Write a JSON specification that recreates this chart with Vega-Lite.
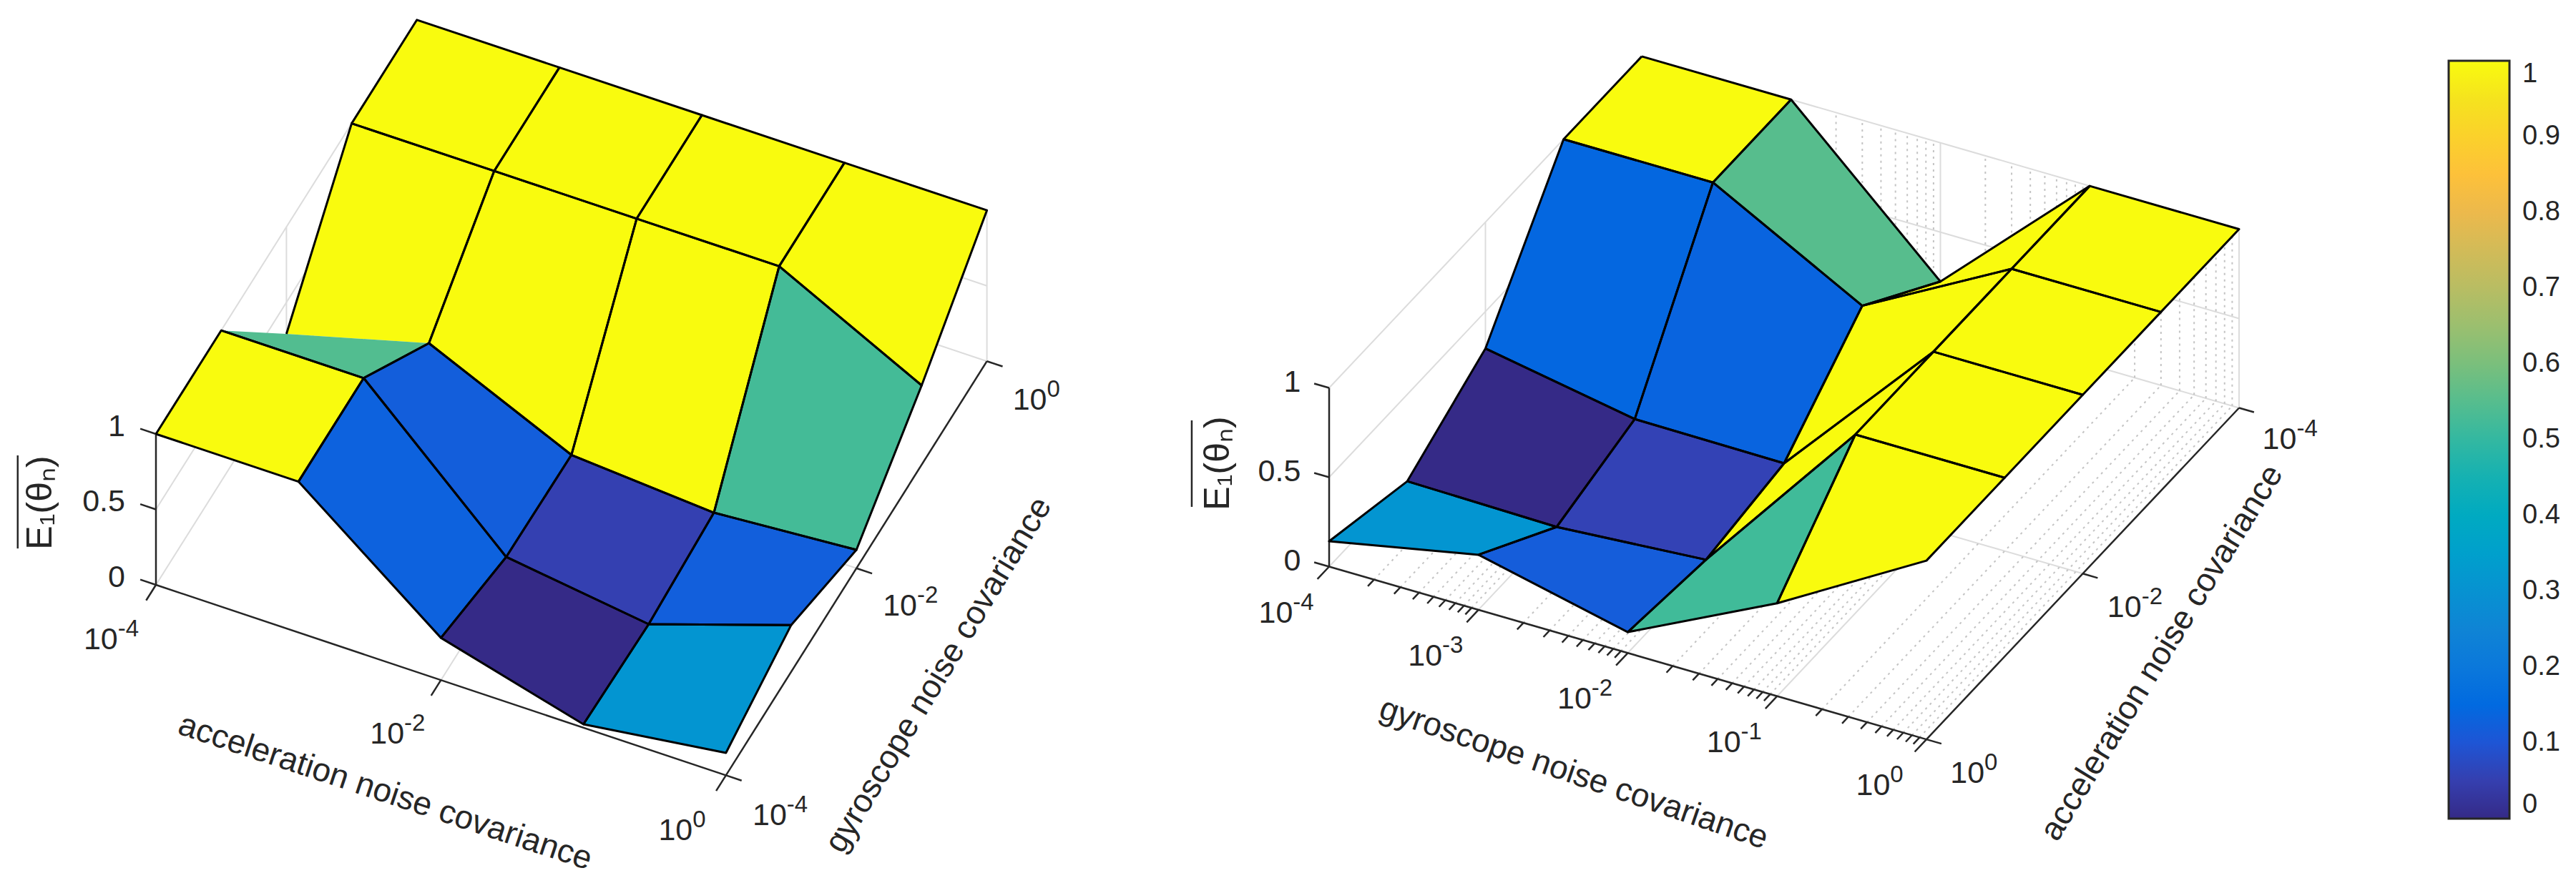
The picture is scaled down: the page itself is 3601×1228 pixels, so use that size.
{"$schema":"https://vega.github.io/schema/vega-lite/v6.json","width":3601,"height":1228,"padding":0,"autosize":{"type":"none"},"background":"white","view":{"stroke":null},
"config":{"text":{"font":"Liberation Sans","fill":"#262626"}},
"datasets":{
"cells":[
{"p":"L","a":-4,"g":-1,"z1_ll":1,"z2_hl":1,"z3_hh":1,"z4_lh":1,"E":1},
{"p":"L","a":-3,"g":-1,"z1_ll":1,"z2_hl":1,"z3_hh":1,"z4_lh":1,"E":1},
{"p":"L","a":-2,"g":-1,"z1_ll":1,"z2_hl":1,"z3_hh":1,"z4_lh":1,"E":1},
{"p":"L","a":-1,"g":-1,"z1_ll":1,"z2_hl":0.526,"z3_hh":1,"z4_lh":1,"E":1},
{"p":"L","a":-4,"g":-2,"z1_ll":0.291,"z2_hl":0.545,"z3_hh":1,"z4_lh":1,"E":1},
{"p":"L","a":-3,"g":-2,"z1_ll":0.545,"z2_hl":0.12,"z3_hh":1,"z4_lh":1,"E":1},
{"p":"L","a":-2,"g":-2,"z1_ll":0.12,"z2_hl":0.053,"z3_hh":1,"z4_lh":1,"E":1},
{"p":"L","a":-1,"g":-2,"z1_ll":0.053,"z2_hl":0.122,"z3_hh":0.526,"z4_lh":1,"E":0.526},
{"p":"L","a":-4,"g":-3,"z1_ll":1,"z2_hl":1,"z3_hh":0.545,"z4_lh":0.291,"E":0.545},
{"p":"L","a":-3,"g":-3,"z1_ll":1,"z2_hl":0.13,"z3_hh":0.12,"z4_lh":0.545,"E":0.12},
{"p":"L","a":-2,"g":-3,"z1_ll":0.13,"z2_hl":0,"z3_hh":0.053,"z4_lh":0.12,"E":0.053},
{"p":"L","a":-1,"g":-3,"z1_ll":0,"z2_hl":0.31,"z3_hh":0.122,"z4_lh":0.053,"E":0.122},
{"p":"L","a":-4,"g":-4,"z1_ll":1,"z2_hl":1,"z3_hh":1,"z4_lh":1,"E":1},
{"p":"L","a":-3,"g":-4,"z1_ll":1,"z2_hl":0.28,"z3_hh":0.13,"z4_lh":1,"E":0.13},
{"p":"L","a":-2,"g":-4,"z1_ll":0.28,"z2_hl":0.023,"z3_hh":0,"z4_lh":0.13,"E":0},
{"p":"L","a":-1,"g":-4,"z1_ll":0.023,"z2_hl":0.149,"z3_hh":0.31,"z4_lh":0,"E":0.31},
{"p":"R","a":-4,"g":-4,"z1_ll":1,"z2_hl":1,"z3_hh":1,"z4_lh":1,"E":1},
{"p":"R","a":-4,"g":-3,"z1_ll":1,"z2_hl":1,"z3_hh":0.552,"z4_lh":0.224,"E":0.552},
{"p":"R","a":-4,"g":-2,"z1_ll":0.224,"z2_hl":0.552,"z3_hh":1,"z4_lh":1,"E":1},
{"p":"R","a":-4,"g":-1,"z1_ll":1,"z2_hl":1,"z3_hh":1,"z4_lh":1,"E":1},
{"p":"R","a":-3,"g":-4,"z1_ll":1,"z2_hl":0.293,"z3_hh":0.14,"z4_lh":1,"E":0.14},
{"p":"R","a":-3,"g":-3,"z1_ll":1,"z2_hl":0.14,"z3_hh":0.134,"z4_lh":0.552,"E":0.134},
{"p":"R","a":-3,"g":-2,"z1_ll":0.552,"z2_hl":0.134,"z3_hh":1,"z4_lh":1,"E":1},
{"p":"R","a":-3,"g":-1,"z1_ll":1,"z2_hl":1,"z3_hh":1,"z4_lh":1,"E":1},
{"p":"R","a":-2,"g":-4,"z1_ll":0.293,"z2_hl":0.014,"z3_hh":0,"z4_lh":0.14,"E":0},
{"p":"R","a":-2,"g":-3,"z1_ll":0.14,"z2_hl":0,"z3_hh":0.058,"z4_lh":0.134,"E":0.058},
{"p":"R","a":-2,"g":-2,"z1_ll":0.134,"z2_hl":0.058,"z3_hh":1,"z4_lh":1,"E":1},
{"p":"R","a":-2,"g":-1,"z1_ll":1,"z2_hl":1,"z3_hh":1,"z4_lh":1,"E":1},
{"p":"R","a":-1,"g":-4,"z1_ll":0.014,"z2_hl":0.142,"z3_hh":0.308,"z4_lh":0,"E":0.308},
{"p":"R","a":-1,"g":-3,"z1_ll":0,"z2_hl":0.308,"z3_hh":0.117,"z4_lh":0.058,"E":0.117},
{"p":"R","a":-1,"g":-2,"z1_ll":0.058,"z2_hl":0.117,"z3_hh":0.52,"z4_lh":1,"E":0.52},
{"p":"R","a":-1,"g":-1,"z1_ll":1,"z2_hl":0.52,"z3_hh":1,"z4_lh":1,"E":1}
],
"segments":[
{"k":"grid","p":"L","a1":-4,"g1":-4,"z1":0,"a2":-4,"g2":0,"z2":0},
{"k":"grid","p":"L","a1":-4,"g1":-4,"z1":0.5,"a2":-4,"g2":0,"z2":0.5},
{"k":"grid","p":"L","a1":-4,"g1":-4,"z1":1,"a2":-4,"g2":0,"z2":1},
{"k":"grid","p":"L","a1":-4,"g1":-2,"z1":0,"a2":-4,"g2":-2,"z2":1},
{"k":"grid","p":"L","a1":-4,"g1":0,"z1":0,"a2":-4,"g2":0,"z2":1},
{"k":"grid","p":"L","a1":-4,"g1":0,"z1":0,"a2":0,"g2":0,"z2":0},
{"k":"grid","p":"L","a1":-4,"g1":0,"z1":0.5,"a2":0,"g2":0,"z2":0.5},
{"k":"grid","p":"L","a1":-4,"g1":0,"z1":1,"a2":0,"g2":0,"z2":1},
{"k":"grid","p":"L","a1":-2,"g1":0,"z1":0,"a2":-2,"g2":0,"z2":1},
{"k":"grid","p":"L","a1":0,"g1":0,"z1":0,"a2":0,"g2":0,"z2":1},
{"k":"grid","p":"L","a1":-2,"g1":-4,"z1":0,"a2":-2,"g2":0,"z2":0},
{"k":"grid","p":"L","a1":-4,"g1":-2,"z1":0,"a2":0,"g2":-2,"z2":0},
{"k":"grid","p":"R","a1":0,"g1":-4,"z1":0,"a2":-4,"g2":-4,"z2":0},
{"k":"grid","p":"R","a1":0,"g1":-4,"z1":0.5,"a2":-4,"g2":-4,"z2":0.5},
{"k":"grid","p":"R","a1":0,"g1":-4,"z1":1,"a2":-4,"g2":-4,"z2":1},
{"k":"grid","p":"R","a1":-2,"g1":-4,"z1":0,"a2":-2,"g2":-4,"z2":1},
{"k":"grid","p":"R","a1":-4,"g1":-4,"z1":0,"a2":-4,"g2":-4,"z2":1},
{"k":"grid","p":"R","a1":-4,"g1":-4,"z1":0,"a2":-4,"g2":0,"z2":0},
{"k":"grid","p":"R","a1":-4,"g1":-4,"z1":0.5,"a2":-4,"g2":0,"z2":0.5},
{"k":"grid","p":"R","a1":-4,"g1":-4,"z1":1,"a2":-4,"g2":0,"z2":1},
{"k":"grid","p":"R","a1":-4,"g1":-3,"z1":0,"a2":-4,"g2":-3,"z2":1},
{"k":"grid","p":"R","a1":-4,"g1":-2,"z1":0,"a2":-4,"g2":-2,"z2":1},
{"k":"grid","p":"R","a1":-4,"g1":-1,"z1":0,"a2":-4,"g2":-1,"z2":1},
{"k":"grid","p":"R","a1":-4,"g1":0,"z1":0,"a2":-4,"g2":0,"z2":1},
{"k":"grid","p":"R","a1":0,"g1":-3,"z1":0,"a2":-4,"g2":-3,"z2":0},
{"k":"grid","p":"R","a1":0,"g1":-2,"z1":0,"a2":-4,"g2":-2,"z2":0},
{"k":"grid","p":"R","a1":0,"g1":-1,"z1":0,"a2":-4,"g2":-1,"z2":0},
{"k":"grid","p":"R","a1":-2,"g1":-4,"z1":0,"a2":-2,"g2":0,"z2":0},
{"k":"axis","p":"L","a1":-4,"g1":-4,"z1":0,"a2":0,"g2":-4,"z2":0},
{"k":"axis","p":"L","a1":0,"g1":-4,"z1":0,"a2":0,"g2":0,"z2":0},
{"k":"axis","p":"L","a1":-4,"g1":-4,"z1":0,"a2":-4,"g2":-4,"z2":1},
{"k":"axis","p":"L","a1":-4,"g1":-4,"z1":0,"a2":-4,"g2":-4.15,"z2":0},
{"k":"axis","p":"L","a1":-2,"g1":-4,"z1":0,"a2":-2,"g2":-4.15,"z2":0},
{"k":"axis","p":"L","a1":0,"g1":-4,"z1":0,"a2":0,"g2":-4.15,"z2":0},
{"k":"axis","p":"L","a1":0,"g1":-4,"z1":0,"a2":0.11,"g2":-4,"z2":0},
{"k":"axis","p":"L","a1":0,"g1":-2,"z1":0,"a2":0.11,"g2":-2,"z2":0},
{"k":"axis","p":"L","a1":0,"g1":0,"z1":0,"a2":0.11,"g2":0,"z2":0},
{"k":"axis","p":"L","a1":-4,"g1":-4,"z1":0,"a2":-4.11,"g2":-4,"z2":0},
{"k":"axis","p":"L","a1":-4,"g1":-4,"z1":0.5,"a2":-4.11,"g2":-4,"z2":0.5},
{"k":"axis","p":"L","a1":-4,"g1":-4,"z1":1,"a2":-4.11,"g2":-4,"z2":1},
{"k":"axis","p":"R","a1":0,"g1":-4,"z1":0,"a2":0,"g2":0,"z2":0},
{"k":"axis","p":"R","a1":0,"g1":0,"z1":0,"a2":-4,"g2":0,"z2":0},
{"k":"axis","p":"R","a1":0,"g1":-4,"z1":0,"a2":0,"g2":-4,"z2":1},
{"k":"axis","p":"R","a1":0,"g1":-4,"z1":0,"a2":0.15,"g2":-4,"z2":0},
{"k":"axis","p":"R","a1":0,"g1":-3,"z1":0,"a2":0.15,"g2":-3,"z2":0},
{"k":"axis","p":"R","a1":0,"g1":-2,"z1":0,"a2":0.15,"g2":-2,"z2":0},
{"k":"axis","p":"R","a1":0,"g1":-1,"z1":0,"a2":0.15,"g2":-1,"z2":0},
{"k":"axis","p":"R","a1":0,"g1":0,"z1":0,"a2":0.15,"g2":0,"z2":0},
{"k":"axis","p":"R","a1":0,"g1":0,"z1":0,"a2":0,"g2":0.1,"z2":0},
{"k":"axis","p":"R","a1":-2,"g1":0,"z1":0,"a2":-2,"g2":0.1,"z2":0},
{"k":"axis","p":"R","a1":-4,"g1":0,"z1":0,"a2":-4,"g2":0.1,"z2":0},
{"k":"axis","p":"R","a1":0,"g1":-4,"z1":0,"a2":0,"g2":-4.1,"z2":0},
{"k":"axis","p":"R","a1":0,"g1":-4,"z1":0.5,"a2":0,"g2":-4.1,"z2":0.5},
{"k":"axis","p":"R","a1":0,"g1":-4,"z1":1,"a2":0,"g2":-4.1,"z2":1},
{"k":"over","p":"L","a1":-4.97,"g1":-4,"z1":-0.065,"a2":-4.97,"g2":-4,"z2":0.552},
{"k":"over","p":"R","a1":0,"g1":-4.92,"z1":0.112,"a2":0,"g2":-4.92,"z2":0.596}
],
"minor":[{"g":-3.699},{"g":-3.523},{"g":-3.398},{"g":-3.301},{"g":-3.222},{"g":-3.155},{"g":-3.097},{"g":-3.046},{"g":-2.699},{"g":-2.523},{"g":-2.398},{"g":-2.301},{"g":-2.222},{"g":-2.155},{"g":-2.097},{"g":-2.046},{"g":-1.699},{"g":-1.523},{"g":-1.398},{"g":-1.301},{"g":-1.222},{"g":-1.155},{"g":-1.097},{"g":-1.046},{"g":-0.699},{"g":-0.523},{"g":-0.398},{"g":-0.301},{"g":-0.222},{"g":-0.155},{"g":-0.097},{"g":-0.046}],
"powers":[
{"p":"L","a":-4.02,"g":-4.54,"z":0,"base":"10","exp":"-4"},
{"p":"L","a":-2.015,"g":-4.53,"z":0,"base":"10","exp":"-2"},
{"p":"L","a":0.009,"g":-4.53,"z":0,"base":"10","exp":"0"},
{"p":"L","a":0.5,"g":-4.16,"z":0,"base":"10","exp":"-4"},
{"p":"L","a":0.49,"g":-2.14,"z":0,"base":"10","exp":"-2"},
{"p":"L","a":0.49,"g":-0.15,"z":0,"base":"10","exp":"0"},
{"p":"R","a":0.54,"g":-3.96,"z":0,"base":"10","exp":"-4"},
{"p":"R","a":0.54,"g":-2.96,"z":0,"base":"10","exp":"-3"},
{"p":"R","a":0.54,"g":-1.96,"z":0,"base":"10","exp":"-2"},
{"p":"R","a":0.54,"g":-0.96,"z":0,"base":"10","exp":"-1"},
{"p":"R","a":0.54,"g":0.04,"z":0,"base":"10","exp":"0"},
{"p":"R","a":0.169,"g":0.477,"z":0,"base":"10","exp":"0"},
{"p":"R","a":-1.835,"g":0.48,"z":0,"base":"10","exp":"-2"},
{"p":"R","a":-3.857,"g":0.46,"z":0,"base":"10","exp":"-4"}
],
"zlabels":[
{"p":"L","a":-4.216,"g":-4,"z":1,"t":"1"},{"p":"L","a":-4.216,"g":-4,"z":0.5,"t":"0.5"},{"p":"L","a":-4.216,"g":-4,"z":0,"t":"0"},
{"p":"R","a":0,"g":-4.19,"z":1,"t":"1"},{"p":"R","a":0,"g":-4.19,"z":0.5,"t":"0.5"},{"p":"R","a":0,"g":-4.19,"z":0,"t":"0"}
],
"cbticks":[{"v":0.1},{"v":0.2},{"v":0.3},{"v":0.4},{"v":0.5},{"v":0.6},{"v":0.7},{"v":0.8},{"v":0.9}]
},
"encoding":{
"x":{"field":"X","type":"quantitative","axis":null,"scale":{"domain":[0,3601],"nice":false,"zero":false}},
"y":{"field":"Y","type":"quantitative","axis":null,"scale":{"domain":[1228,0],"nice":false,"zero":false}}
},
"layer":[
{"data":{"name":"segments"},"transform":[{"filter":"datum.k=='grid'"},
{"calculate":"datum.p=='L'?218+199.2*(datum.a1+4)+91.2*(datum.g1+4):1858+208.75*(datum.g1+4)-109.25*datum.a1","as":"X"},
{"calculate":"datum.p=='L'?818+66.6*(datum.a1+4)-144.8*(datum.g1+4)-211*datum.z1:792.5+60.4*(datum.g1+4)+115.9*datum.a1-250*datum.z1","as":"Y"},
{"calculate":"datum.p=='L'?218+199.2*(datum.a2+4)+91.2*(datum.g2+4):1858+208.75*(datum.g2+4)-109.25*datum.a2","as":"X2"},
{"calculate":"datum.p=='L'?818+66.6*(datum.a2+4)-144.8*(datum.g2+4)-211*datum.z2:792.5+60.4*(datum.g2+4)+115.9*datum.a2-250*datum.z2","as":"Y2"}],
"mark":{"type":"rule","color":"#dcdcdc","strokeWidth":2},"encoding":{"x2":{"field":"X2"},"y2":{"field":"Y2"}}},
{"data":{"name":"minor"},"transform":[
{"calculate":"1858+208.75*(datum.g+4)","as":"X"},{"calculate":"792.5+60.4*(datum.g+4)","as":"Y"},
{"calculate":"datum.X+437","as":"X2"},{"calculate":"datum.Y-463.6","as":"Y2"}],
"mark":{"type":"rule","color":"#c4c4c4","strokeWidth":2,"strokeDash":[3,6]},"encoding":{"x2":{"field":"X2"},"y2":{"field":"Y2"}}},
{"data":{"name":"minor"},"transform":[
{"calculate":"1858+208.75*(datum.g+4)+437","as":"X"},{"calculate":"792.5+60.4*(datum.g+4)-463.6","as":"Y"},
{"calculate":"datum.Y-250","as":"Y2"}],
"mark":{"type":"rule","color":"#c4c4c4","strokeWidth":2,"strokeDash":[3,6]},"encoding":{"x2":{"field":"X"},"y2":{"field":"Y2"}}},
{"data":{"name":"minor"},"transform":[
{"calculate":"1858+208.75*(datum.g+4)","as":"X"},{"calculate":"792.5+60.4*(datum.g+4)","as":"Y"},
{"calculate":"datum.X-0.08*109.25","as":"X2"},{"calculate":"datum.Y+0.08*115.9","as":"Y2"}],
"mark":{"type":"rule","color":"#262626","strokeWidth":2.5},"encoding":{"x2":{"field":"X2"},"y2":{"field":"Y2"}}},
{"data":{"name":"segments"},"transform":[{"filter":"datum.k=='axis'"},
{"calculate":"datum.p=='L'?218+199.2*(datum.a1+4)+91.2*(datum.g1+4):1858+208.75*(datum.g1+4)-109.25*datum.a1","as":"X"},
{"calculate":"datum.p=='L'?818+66.6*(datum.a1+4)-144.8*(datum.g1+4)-211*datum.z1:792.5+60.4*(datum.g1+4)+115.9*datum.a1-250*datum.z1","as":"Y"},
{"calculate":"datum.p=='L'?218+199.2*(datum.a2+4)+91.2*(datum.g2+4):1858+208.75*(datum.g2+4)-109.25*datum.a2","as":"X2"},
{"calculate":"datum.p=='L'?818+66.6*(datum.a2+4)-144.8*(datum.g2+4)-211*datum.z2:792.5+60.4*(datum.g2+4)+115.9*datum.a2-250*datum.z2","as":"Y2"}],
"mark":{"type":"rule","color":"#262626","strokeWidth":2.5},"encoding":{"x2":{"field":"X2"},"y2":{"field":"Y2"}}},
{"data":{"name":"cells"},"transform":[
{"fold":["z1_ll","z2_hl","z3_hh","z4_lh"],"as":["corner","Z"]},
{"calculate":"datum.p+'_'+datum.a+'_'+datum.g","as":"cell"},
{"calculate":"indexof(['z2_hl','z3_hh'],datum.corner)>=0?datum.a+1:datum.a","as":"A"},
{"calculate":"indexof(['z3_hh','z4_lh'],datum.corner)>=0?datum.g+1:datum.g","as":"G"},
{"calculate":"datum.p=='L'?218+199.2*(datum.A+4)+91.2*(datum.G+4):1858+208.75*(datum.G+4)-109.25*datum.A","as":"X"},
{"calculate":"datum.p=='L'?818+66.6*(datum.A+4)-144.8*(datum.G+4)-211*datum.Z:792.5+60.4*(datum.G+4)+115.9*datum.A-250*datum.Z","as":"Y"}],
"mark":{"type":"line","filled":true,"strokeWidth":0},
"encoding":{"detail":{"field":"cell"},"order":{"field":"corner"},
"fill":{"field":"E","type":"quantitative","scale":{"domain":[0,1],"range":["#352a87","#353ead","#2053d4","#0268e1","#0d75dc","#1481d6","#108ed2","#079ccf","#06a7c6","#0faeb9","#25b5a9","#42bb98","#65be86","#87bf77","#a5be6b","#c0bc60","#d9ba56","#f1b94a","#ffc337","#fad32a","#f5e41d","#f9fb0e"]},
"legend":{"type":"gradient","orient":"none","legendX":3423,"legendY":85,"direction":"vertical","title":null,"padding":0,"gradientLength":1060,"gradientThickness":85,"gradientStrokeColor":"#262626","gradientStrokeWidth":3,"values":[0,0.1,0.2,0.3,0.4,0.5,0.6,0.7,0.8,0.9,1],"format":".1~f","labelFont":"Liberation Sans","labelFontSize":38,"labelColor":"#262626","labelOffset":18,"labelOverlap":false,"encoding":{"labels":{"update":{"baseline":{"value":"middle"}}}}}}}},
{"data":{"name":"cells"},"transform":[
{"calculate":"datum.z1_ll","as":"z5_ll"},
{"fold":["z1_ll","z2_hl","z3_hh","z4_lh","z5_ll"],"as":["corner","Z"]},
{"filter":"!(datum.p=='L'&&datum.a==-4&&((datum.g==-3&&(datum.corner=='z4_lh'||datum.corner=='z5_ll'))||(datum.g==-2&&datum.corner=='z1_ll')))"},
{"calculate":"datum.p+'_'+datum.a+'_'+datum.g","as":"cell"},
{"calculate":"indexof(['z2_hl','z3_hh'],datum.corner)>=0?datum.a+1:datum.a","as":"A"},
{"calculate":"indexof(['z3_hh','z4_lh'],datum.corner)>=0?datum.g+1:datum.g","as":"G"},
{"calculate":"datum.p=='L'?218+199.2*(datum.A+4)+91.2*(datum.G+4):1858+208.75*(datum.G+4)-109.25*datum.A","as":"X"},
{"calculate":"datum.p=='L'?818+66.6*(datum.A+4)-144.8*(datum.G+4)-211*datum.Z:792.5+60.4*(datum.G+4)+115.9*datum.A-250*datum.Z","as":"Y"}],
"mark":{"type":"line","color":"#000000","strokeWidth":3,"strokeJoin":"round"},
"encoding":{"detail":{"field":"cell"},"order":{"field":"corner"}}},
{"data":{"name":"segments"},"transform":[{"filter":"datum.k=='over'"},
{"calculate":"datum.p=='L'?218+199.2*(datum.a1+4)+91.2*(datum.g1+4):1858+208.75*(datum.g1+4)-109.25*datum.a1","as":"X"},
{"calculate":"datum.p=='L'?818+66.6*(datum.a1+4)-144.8*(datum.g1+4)-211*datum.z1:792.5+60.4*(datum.g1+4)+115.9*datum.a1-250*datum.z1","as":"Y"},
{"calculate":"datum.p=='L'?818+66.6*(datum.a2+4)-144.8*(datum.g2+4)-211*datum.z2:792.5+60.4*(datum.g2+4)+115.9*datum.a2-250*datum.z2","as":"Y2"}],
"mark":{"type":"rule","color":"#262626","strokeWidth":2.5},"encoding":{"x2":{"field":"X"},"y2":{"field":"Y2"}}},
{"data":{"name":"powers"},"transform":[
{"calculate":"datum.p=='L'?218+199.2*(datum.a+4)+91.2*(datum.g+4):1858+208.75*(datum.g+4)-109.25*datum.a","as":"X"},
{"calculate":"datum.p=='L'?818+66.6*(datum.a+4)-144.8*(datum.g+4)-211*datum.z:792.5+60.4*(datum.g+4)+115.9*datum.a-250*datum.z","as":"Y"}],
"mark":{"type":"text","align":"right","baseline":"middle","fontSize":43},"encoding":{"text":{"field":"base"}}},
{"data":{"name":"powers"},"transform":[
{"calculate":"datum.p=='L'?218+199.2*(datum.a+4)+91.2*(datum.g+4):1858+208.75*(datum.g+4)-109.25*datum.a","as":"X"},
{"calculate":"datum.p=='L'?818+66.6*(datum.a+4)-144.8*(datum.g+4)-211*datum.z:792.5+60.4*(datum.g+4)+115.9*datum.a-250*datum.z","as":"Y"}],
"mark":{"type":"text","align":"left","baseline":"middle","fontSize":33,"dy":-15},"encoding":{"text":{"field":"exp"}}},
{"data":{"name":"zlabels"},"transform":[
{"calculate":"datum.p=='L'?218+199.2*(datum.a+4)+91.2*(datum.g+4):1858+208.75*(datum.g+4)-109.25*datum.a","as":"X"},
{"calculate":"datum.p=='L'?818+66.6*(datum.a+4)-144.8*(datum.g+4)-211*datum.z:792.5+60.4*(datum.g+4)+115.9*datum.a-250*datum.z","as":"Y"}],
"mark":{"type":"text","align":"right","baseline":"middle","fontSize":43,"dy":4},"encoding":{"text":{"field":"t"}}},
{"data":{"values":[{"p":"L","a":-1.914,"g":-5.043,"t":"acceleration noise covariance"}]},"transform":[
{"calculate":"218+199.2*(datum.a+4)+91.2*(datum.g+4)","as":"X"},{"calculate":"818+66.6*(datum.a+4)-144.8*(datum.g+4)","as":"Y"}],
"mark":{"type":"text","align":"center","baseline":"middle","fontSize":46,"angle":18.4},"encoding":{"text":{"field":"t"}}},
{"data":{"values":[{"p":"L","a":0.866,"g":-2.632,"t":"gyroscope noise covariance"}]},"transform":[
{"calculate":"218+199.2*(datum.a+4)+91.2*(datum.g+4)","as":"X"},{"calculate":"818+66.6*(datum.a+4)-144.8*(datum.g+4)","as":"Y"}],
"mark":{"type":"text","align":"center","baseline":"middle","fontSize":46,"angle":-59},"encoding":{"text":{"field":"t"}}},
{"data":{"values":[{"p":"R","a":1.292,"g":-1.686,"t":"gyroscope noise covariance"}]},"transform":[
{"calculate":"1858+208.75*(datum.g+4)-109.25*datum.a","as":"X"},{"calculate":"792.5+60.4*(datum.g+4)+115.9*datum.a","as":"Y"}],
"mark":{"type":"text","align":"center","baseline":"middle","fontSize":46,"angle":18.9},"encoding":{"text":{"field":"t"}}},
{"data":{"values":[{"p":"R","a":-1.466,"g":0.809,"t":"acceleration noise covariance"}]},"transform":[
{"calculate":"1858+208.75*(datum.g+4)-109.25*datum.a","as":"X"},{"calculate":"792.5+60.4*(datum.g+4)+115.9*datum.a","as":"Y"}],
"mark":{"type":"text","align":"center","baseline":"middle","fontSize":46,"angle":-58.5},"encoding":{"text":{"field":"t"}}},
{"data":{"values":[{"p":"L","a":-4.692,"g":-4.253,"z":0.5,"t":"E₁(θₙ)"},{"p":"R","a":0.172,"g":-4.653,"z":0.5,"t":"E₁(θₙ)"}]},"transform":[
{"calculate":"datum.p=='L'?218+199.2*(datum.a+4)+91.2*(datum.g+4):1858+208.75*(datum.g+4)-109.25*datum.a","as":"X"},
{"calculate":"datum.p=='L'?818+66.6*(datum.a+4)-144.8*(datum.g+4)-211*datum.z:792.5+60.4*(datum.g+4)+115.9*datum.a-250*datum.z","as":"Y"}],
"mark":{"type":"text","align":"center","baseline":"middle","fontSize":50,"angle":-90},"encoding":{"text":{"field":"t"}}},
{"data":{"name":"cbticks"},"transform":[{"calculate":"1145-1060*datum.v","as":"Y"}],
"mark":{"type":"rule","color":"#262626","strokeWidth":3},"encoding":{"x":{"datum":3496,"type":"quantitative"},"x2":{"datum":3507},"y":{"field":"Y","type":"quantitative"}}}
]}
